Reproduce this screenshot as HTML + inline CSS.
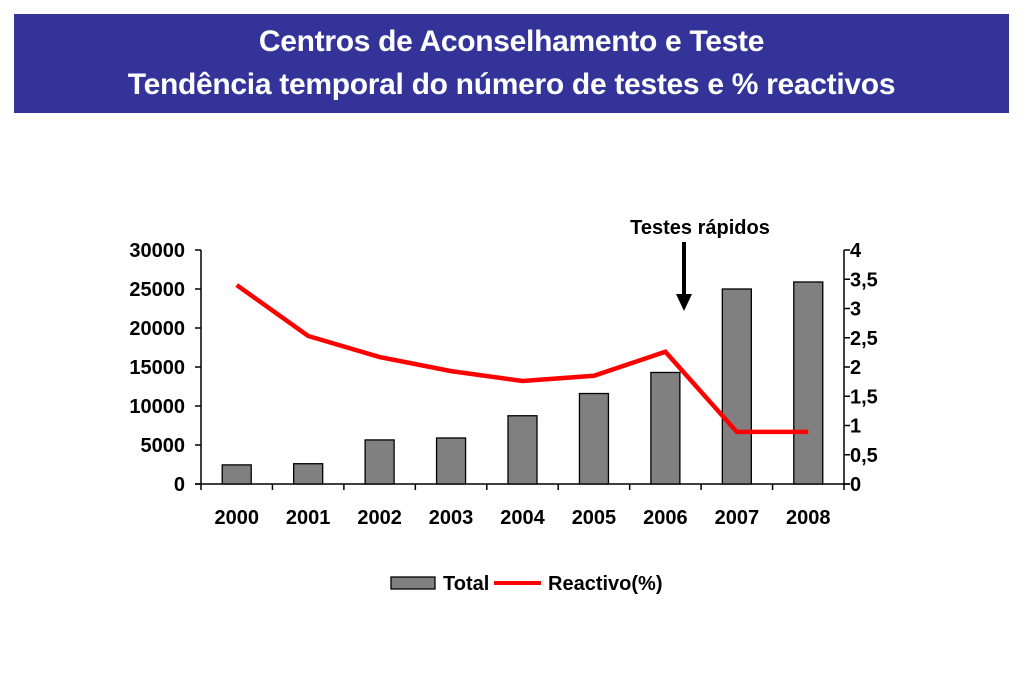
<!DOCTYPE html>
<html><head><meta charset="utf-8"><style>
body{margin:0;background:#fff;width:1023px;height:682px;overflow:hidden;font-family:"Liberation Sans",sans-serif}
#banner{position:absolute;left:14px;top:14px;width:995px;height:99px;background:#333399;color:#fff;font-weight:bold;font-size:30px;text-align:center;line-height:43px;padding-top:6px;box-sizing:border-box;letter-spacing:-0.3px}
svg{position:absolute;left:0;top:0}
text{font-family:"Liberation Sans",sans-serif;font-weight:bold;font-size:20px;fill:#000}
</style></head><body>
<div id="banner"><div>Centros de Aconselhamento e Teste</div><div>Tendência temporal do número de testes e % reactivos</div></div>
<svg id="chart" width="1023" height="682"></svg>
<script>
const years=["2000","2001","2002","2003","2004","2005","2006","2007","2008"];
const totals=[2450,2600,5650,5900,8750,11600,14300,25000,25900];
const reactivo=[3.4,2.53,2.17,1.93,1.76,1.85,2.26,0.89,0.89];
const leftTicks=[0,5000,10000,15000,20000,25000,30000];
const rightTicks=["0","0,5","1","1,5","2","2,5","3","3,5","4"];
const X0=201,X1=844,Y0=484,Y1=250;
const bw=(X1-X0)/years.length;
const xc=i=>X0+bw*(i+0.5);
const yl=v=>Y0-(v/30000)*(Y0-Y1);
const yr=v=>Y0-(v/4)*(Y0-Y1);
const svg=document.getElementById('chart');
const NS="http://www.w3.org/2000/svg";
function mk(t,a,p){const e=document.createElementNS(NS,t);for(const k in a)e.setAttribute(k,a[k]);(p||svg).appendChild(e);return e;}
let e=mk('line',{x1:X0,y1:Y1,x2:X0,y2:Y0,stroke:'#000','stroke-width':1.5});


e=mk('line',{x1:X1,y1:Y1,x2:X1,y2:Y0,stroke:'#000','stroke-width':1.5});


e=mk('line',{x1:X0-6,y1:Y0,x2:X1+6,y2:Y0,stroke:'#000','stroke-width':1.5});


leftTicks.forEach(v=>{
 mk('line',{x1:X0-6,y1:yl(v),x2:X0,y2:yl(v),stroke:'#000','stroke-width':1.5});
 const t=mk('text',{x:185,y:yl(v)+7,'text-anchor':'end'});t.textContent=v;
 
 
});
rightTicks.forEach((s,i)=>{
 const v=i*0.5;
 mk('line',{x1:X1,y1:yr(v),x2:X1+6,y2:yr(v),stroke:'#000','stroke-width':1.5});
 const t=mk('text',{x:850,y:yr(v)+7});t.textContent=s;
 
 
});
for(let i=0;i<=years.length;i++)mk('line',{x1:X0+bw*i,y1:Y0,x2:X0+bw*i,y2:Y0+6,stroke:'#000','stroke-width':1.5});
years.forEach((y,i)=>{
 const t=mk('text',{x:xc(i),y:524,'text-anchor':'middle'});t.textContent=y;
 
 
 const b=mk('rect',{x:xc(i)-14.5,y:yl(totals[i]),width:29,height:Y0-yl(totals[i]),fill:'#808080',stroke:'#000','stroke-width':1.3});
 
 
});
const pl=mk('polyline',{points:reactivo.map((v,i)=>xc(i)+','+yr(v)).join(' '),fill:'none',stroke:'#ff0000','stroke-width':4.5});


const g=mk('g',{});


const at=mk('text',{x:700,y:234,'text-anchor':'middle','font-size':'23'},g);at.textContent='Testes rápidos';
mk('line',{x1:684,y1:242,x2:684,y2:297,stroke:'#000','stroke-width':4},g);
mk('polygon',{points:'676,294 692,294 684,311',fill:'#000'},g);
const lg=mk('g',{});


const r=mk('rect',{x:391,y:577,width:44,height:12,fill:'#808080',stroke:'#000','stroke-width':1.3},lg);


let lt=mk('text',{x:443,y:590,'font-size':'18'},lg);lt.textContent='Total';


mk('line',{x1:494,y1:583,x2:541,y2:583,stroke:'#ff0000','stroke-width':4},lg);
lt=mk('text',{x:548,y:590,'font-size':'17.5'},lg);lt.textContent='Reactivo(%)';


</script>
</body></html>
